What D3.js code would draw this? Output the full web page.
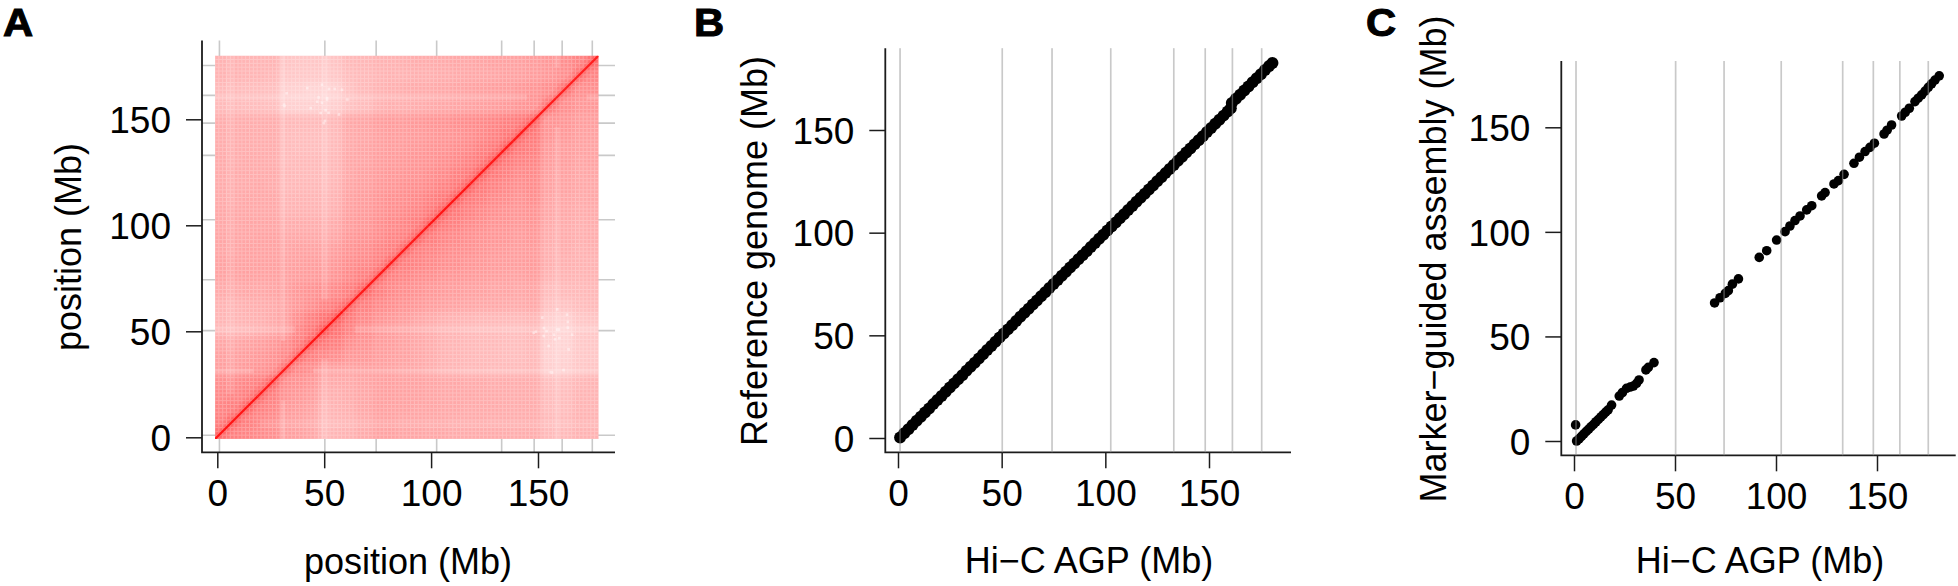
<!DOCTYPE html>
<html>
<head>
<meta charset="utf-8">
<script src="https://cdn.jsdelivr.net/npm/d3@7"></script>
<style>
  html, body { margin: 0; padding: 0; background: #fff; }
  text { font-family: "Liberation Sans", Arial, sans-serif; fill: #000; }
</style>
</head>
<body>
<svg id="chart" width="1958" height="586"></svg>
<script>
// contig boundaries shared by the three panels (Mb)
const boundaries = [1, 50.3, 74.3, 102.6, 133, 148.2, 161.3, 175.4];
const tickValues = [0, 50, 100, 150];

// panel A: bin edges (Mb) and contact strength in percent of full red, lower triangle
const binEdges = [0, 6, 12, 18, 24, 30, 36, 42, 48, 54, 60, 66, 74, 80, 86, 92, 98, 104, 110, 116, 122, 128, 134, 140, 146, 153, 161, 168, 174, 180];
const contacts = [
  [48],
  [46, 50],
  [44, 46, 50],
  [42, 43, 46, 50],
  [40, 41, 43, 46, 50],
  [34, 34, 36, 38, 40, 46],
  [33, 33, 34, 36, 38, 42, 48],
  [31, 31, 32, 34, 36, 40, 46, 52],
  [25, 25, 26, 28, 30, 34, 42, 48, 54],
  [25, 25, 26, 27, 29, 33, 40, 46, 50, 54],
  [26, 26, 27, 28, 29, 32, 36, 40, 44, 48, 50],
  [29, 29, 30, 30, 31, 33, 36, 38, 40, 42, 46, 50],
  [32, 32, 33, 33, 33, 33, 34, 35, 36, 38, 42, 46, 50],
  [32, 32, 32, 33, 33, 32, 33, 34, 34, 36, 40, 42, 46, 50],
  [31, 31, 32, 32, 32, 31, 32, 32, 32, 34, 38, 40, 44, 46, 50],
  [31, 31, 31, 32, 32, 30, 30, 30, 30, 31, 36, 38, 41, 44, 46, 50],
  [30, 30, 31, 31, 31, 28, 28, 28, 28, 29, 34, 36, 40, 42, 44, 47, 52],
  [30, 30, 30, 30, 30, 26, 26, 26, 26, 27, 33, 35, 38, 40, 42, 44, 48, 52],
  [29, 29, 30, 30, 30, 25, 25, 25, 25, 26, 32, 34, 37, 39, 40, 42, 45, 48, 52],
  [29, 29, 29, 30, 29, 24, 24, 24, 24, 25, 31, 33, 36, 37, 39, 40, 42, 45, 48, 52],
  [29, 29, 29, 29, 29, 24, 23, 23, 23, 24, 30, 32, 35, 36, 37, 38, 40, 42, 45, 48, 52],
  [29, 28, 29, 29, 28, 23, 23, 23, 23, 24, 30, 31, 34, 35, 36, 37, 38, 40, 42, 45, 48, 52],
  [28, 28, 28, 28, 28, 23, 22, 22, 22, 23, 29, 31, 33, 34, 35, 36, 37, 38, 40, 42, 45, 48, 52],
  [28, 28, 28, 28, 28, 23, 22, 22, 22, 23, 29, 30, 33, 34, 34, 35, 36, 37, 38, 40, 42, 45, 48, 50],
  [28, 28, 28, 28, 28, 24, 23, 23, 23, 24, 30, 31, 34, 35, 35, 36, 37, 38, 40, 41, 42, 44, 46, 48, 50],
  [23, 23, 22, 22, 21, 15, 14, 14, 14, 15, 20, 22, 26, 27, 27, 28, 29, 30, 31, 32, 33, 34, 35, 37, 38, 44],
  [23, 23, 22, 22, 21, 15, 14, 13, 13, 14, 20, 23, 26, 27, 28, 29, 29, 30, 31, 32, 33, 34, 34, 36, 37, 40, 46],
  [26, 26, 25, 25, 24, 18, 17, 17, 17, 18, 22, 23, 25, 26, 26, 27, 27, 28, 29, 30, 30, 31, 32, 33, 34, 36, 40, 46],
  [26, 26, 25, 25, 25, 19, 18, 18, 18, 19, 23, 24, 26, 26, 27, 28, 28, 29, 30, 30, 31, 32, 32, 33, 34, 36, 40, 44, 48]
];
// pale rows/columns: centre (Mb), width (Mb), whitening
const stripePos = [7, 32, 51.5, 160.5];
const stripeWidth = [4, 2, 3.5, 2.5];
const stripeAlpha = [0.09, 0.15, 0.13, 0.13];
// isolated low-contact bins (Mb), also shown mirrored
const speckX = [52, 55.6, 52.9, 57.6, 31.8, 51.3, 47.4, 44.3, 61.5, 59, 49, 42.7, 50.5, 52, 32, 48, 33, 49.6, 52.7, 49.6, 51];
const speckY = [160.7, 165, 165, 153, 157.6, 155, 159, 156, 160, 164.6, 153.7, 165.4, 149, 160, 157, 161, 163, 167, 153.8, 158.5, 150];
// main diagonal
const diagPos = [0, 20, 40, 60, 80, 100, 120, 140, 160, 180];
const diagVal = [88, 86, 88, 86, 86, 88, 86, 86, 84, 84];

// panel B: Hi-C AGP against reference genome (Mb)
const hicB = [1, 3, 5, 7, 9, 11, 13, 15, 17, 19, 21, 23, 25, 27, 29, 31, 33, 35, 37, 39, 41, 43, 45, 47, 49, 51, 53, 55, 57, 59, 61, 63, 65, 67, 69, 71, 73, 75, 77, 79, 81, 83, 85, 87, 89, 91, 93, 95, 97, 99, 101, 103, 105, 107, 109, 111, 113, 115, 117, 119, 121, 123, 125, 127, 129, 131, 133, 135, 137, 139, 141, 143, 145, 147, 149, 151, 153, 155, 157, 159, 160.5, 161, 163, 165, 167, 169, 171, 173, 175, 177, 179, 180.6];
const refB = [0.3, 2.3, 4.3, 6.3, 8.4, 10.4, 12.4, 14.4, 16.5, 18.5, 20.5, 22.5, 24.6, 26.6, 28.6, 30.6, 32.7, 34.7, 36.7, 38.7, 40.8, 42.8, 44.8, 46.9, 48.9, 50.9, 52.9, 54.9, 57, 59, 61, 63, 65, 67, 69, 71, 73, 75, 77, 79, 81, 83, 85, 87, 89, 91, 93, 95, 97, 99, 101, 103, 105, 107, 109, 111, 113, 115, 117, 119, 121, 123, 125, 127, 129, 131, 133, 135, 137, 139, 141, 143, 145, 147, 149, 151, 153, 155, 157, 159, 160.6, 163.2, 165.2, 167.2, 169.2, 171.2, 173.2, 175.2, 177.2, 179.2, 181.2, 182.6];

// panel C: Hi-C AGP against marker-guided assembly (Mb)
const hicC = [0.8, 1.3, 2.5, 3.7, 4.9, 6.1, 7.3, 8.5, 9.7, 10.9, 12.1, 13.3, 14.5, 15.7, 16.9, 18.6, 22.4, 24, 26, 27.8, 29.4, 31, 32.2, 35.6, 36.8, 39.6, 69.6, 72.3, 74.9, 76.4, 78.4, 81.4, 91.7, 95.4, 100.3, 104.5, 106.9, 109.4, 111.9, 115.2, 117.7, 122.6, 124.3, 128.7, 130.9, 133.7, 138.6, 141.3, 144.1, 146.5, 148.7, 153.5, 155, 157.2, 162.2, 164, 166, 168.8, 170.4, 172.1, 173.8, 175.4, 177, 178.7, 180.8];
const asmC = [7.7, 0, 1, 2.2, 3.4, 4.6, 5.7, 6.9, 8, 9.2, 10.3, 11.5, 12.6, 13.8, 14.9, 17.2, 21.5, 23.2, 25.2, 25.8, 26.3, 27.6, 29.2, 34, 35.2, 37.5, 66, 68.5, 70.6, 71.9, 75, 77.5, 87.8, 91, 96.1, 100.1, 102.8, 105.4, 107.6, 110.5, 112.5, 117.2, 118.8, 122.9, 124.5, 127.5, 132.8, 135.7, 138.4, 140.4, 142.4, 146.8, 148.6, 151.1, 155.4, 157.2, 159.1, 162.3, 163.9, 165.5, 167.3, 169.1, 170.8, 172.6, 174.6];

const svg = d3.select("#chart");
const gridColor = "#c9c9c9";
const axisColor = "#1c1c1c";
const tickFont = 37;
const titleFont = 36;

// frame, gray boundary lines, ticks and titles of one panel
function makePanel(p) {
  const g = svg.append("g");
  const x = d3.scaleLinear().domain([0, 150]).range(p.xRange);
  const y = d3.scaleLinear().domain([0, 150]).range(p.yRange);

  const gray = g.append("g").attr("stroke", gridColor).attr("stroke-width", 1.6);
  gray.selectAll("line.v").data(boundaries).join("line")
    .attr("class", "v")
    .attr("x1", d => x(d)).attr("x2", d => x(d))
    .attr("y1", p.top).attr("y2", p.bottom);
  if (p.horizontal) {
    gray.selectAll("line.h").data(boundaries).join("line")
      .attr("class", "h")
      .attr("y1", d => y(d)).attr("y2", d => y(d))
      .attr("x1", p.left).attr("x2", p.right);
  }

  const xAxis = g.append("g")
    .attr("transform", `translate(0,${p.bottom})`)
    .call(d3.axisBottom(x).tickValues(tickValues).tickSize(16).tickPadding(11).tickSizeOuter(0));
  const yAxis = g.append("g")
    .attr("transform", `translate(${p.left},0)`)
    .call(d3.axisLeft(y).tickValues(tickValues).tickSize(16).tickPadding(15).tickSizeOuter(0));
  [xAxis, yAxis].forEach(a => {
    a.select(".domain").remove();
    a.selectAll("line").attr("stroke", axisColor).attr("stroke-width", 1.5);
    a.selectAll("text").style("font-size", tickFont + "px").attr("fill", "#000");
  });
  yAxis.selectAll("text").attr("dy", "0.36em");

  g.append("path")
    .attr("d", `M${p.left},${p.top}V${p.bottom}H${p.right}`)
    .attr("fill", "none").attr("stroke", axisColor).attr("stroke-width", 1.8);

  g.append("text").attr("x", p.titleX[0]).attr("y", p.titleX[1])
    .attr("text-anchor", "middle").style("font-size", titleFont + "px").text(p.xLabel);
  g.append("text").attr("transform", `translate(${p.titleY[0]},${p.titleY[1]}) rotate(-90)`)
    .attr("text-anchor", "middle").style("font-size", titleFont + "px").text(p.yLabel);
  g.append("text").attr("transform", `translate(${p.letter},36) scale(1.1,1)`)
    .style("font-size", "38px").style("font-weight", "bold")
    .attr("stroke", "#000").attr("stroke-width", 1).text(p.name);
  return {g, x, y};
}

// ---- panel A
const panelA = makePanel({
  name: "A", letter: 3, xRange: [217.3, 538], yRange: [437.3, 119.3],
  left: 202, right: 615, top: 40.5, bottom: 452.3, horizontal: true,
  xLabel: "position (Mb)", yLabel: "position (Mb)", titleX: [408, 574], titleY: [81, 247]
});

// the contact image sits slightly off the axis scale
const heatX = d3.scaleLinear().domain([0, 180]).range([215, 598.5]);
const heatY = d3.scaleLinear().domain([0, 180]).range([439, 55.7]);
const heatColor = v => d3.interpolateRgb("#ffffff", "#ff0000")((v + 4) / 100); // +4 makes up for the white texture
const contactAt = (i, j) => i >= j ? contacts[i][j] : contacts[j][i];

const defs = svg.append("defs");
defs.append("clipPath").attr("id", "heat-clip").append("rect")
  .attr("x", heatX(0)).attr("y", heatY(180))
  .attr("width", heatX(180) - heatX(0)).attr("height", heatY(0) - heatY(180));
defs.append("filter").attr("id", "heat-blur")
  .attr("filterUnits", "userSpaceOnUse")
  .attr("x", 150).attr("y", 0).attr("width", 520).attr("height", 500)
  .append("feGaussianBlur").attr("stdDeviation", 2.8);

const heat = panelA.g.append("g").attr("clip-path", "url(#heat-clip)");
const nBins = binEdges.length - 1;
const cells = d3.range(nBins).flatMap(i => d3.range(nBins).map(j => ({i, j})));
const edgePad = k => k === 0 ? -12 : k === binEdges.length - 1 ? 12 : 0;

heat.append("g").attr("filter", "url(#heat-blur)")
  .selectAll("rect").data(cells).join("rect")
  .attr("x", d => heatX(binEdges[d.j]) + edgePad(d.j))
  .attr("width", d => heatX(binEdges[d.j + 1]) + edgePad(d.j + 1) - heatX(binEdges[d.j]) - edgePad(d.j) + 0.5)
  .attr("y", d => heatY(binEdges[d.i + 1]) + (d.i + 1 === nBins ? -12 : 0))
  .attr("height", d => heatY(binEdges[d.i]) - heatY(binEdges[d.i + 1]) + (d.i + 1 === nBins ? 12 : 0) + (d.i === 0 ? 12 : 0) + 0.5)
  .attr("fill", d => heatColor(contactAt(d.i, d.j)));

// pale rows and columns, they fade out next to the diagonal
const diagGap = 14;
stripePos.forEach((pos, k) => {
  const half = stripeWidth[k] / 2;
  [[0, pos - diagGap], [pos + diagGap, 180]].filter(s => s[1] > s[0]).forEach(([from, to]) => {
    heat.append("rect")
      .attr("x", heatX(pos - half)).attr("width", heatX(stripeWidth[k]) - heatX(0))
      .attr("y", heatY(to)).attr("height", heatY(from) - heatY(to))
      .attr("fill", "#fff").attr("opacity", stripeAlpha[k]);
    heat.append("rect")
      .attr("y", heatY(pos + half)).attr("height", heatY(0) - heatY(stripeWidth[k]))
      .attr("x", heatX(from)).attr("width", heatX(to) - heatX(from))
      .attr("fill", "#fff").attr("opacity", stripeAlpha[k]);
  });
});

// grid texture of the binned matrix
const texture = heat.append("g").attr("stroke", "#fff").attr("stroke-width", 1).attr("opacity", 0.24);
texture.selectAll("line.v").data(d3.range(0, 180, 1.8)).join("line").attr("class", "v")
  .attr("x1", d => heatX(d)).attr("x2", d => heatX(d)).attr("y1", heatY(180)).attr("y2", heatY(0));
texture.selectAll("line.h").data(d3.range(0, 180, 1.8)).join("line").attr("class", "h")
  .attr("y1", d => heatY(d)).attr("y2", d => heatY(d)).attr("x1", heatX(0)).attr("x2", heatX(180));

// speckles, both sides of the diagonal
const speckSize = 2.6;
const specks = heat.append("g").attr("fill", "#fff").attr("opacity", 0.42);
speckX.forEach((sx, k) => {
  [[sx, speckY[k]], [speckY[k], sx]].forEach(([a, b]) => {
    specks.append("rect").attr("x", heatX(a)).attr("y", heatY(b)).attr("width", speckSize).attr("height", speckSize);
  });
});

// diagonal: soft halo, then the sharp red line
const diagLine = d3.line().x(d => heatX(d)).y(d => heatY(d));
heat.append("path").attr("d", diagLine(diagPos)).attr("fill", "none")
  .attr("stroke", "#ff0000").attr("stroke-width", 14).attr("opacity", 0.05);
heat.append("path").attr("d", diagLine(diagPos)).attr("fill", "none")
  .attr("stroke", "#ff0000").attr("stroke-width", 6).attr("opacity", 0.1);
heat.selectAll("line.diag").data(d3.pairs(d3.zip(diagPos, diagVal))).join("line")
  .attr("class", "diag")
  .attr("x1", d => heatX(d[0][0])).attr("y1", d => heatY(d[0][0]))
  .attr("x2", d => heatX(d[1][0])).attr("y2", d => heatY(d[1][0]))
  .attr("stroke", d => heatColor(d[0][1])).attr("stroke-width", 2.2);

// ---- scatter panels
function drawDots(panel, xs, ys, r) {
  panel.g.append("g").selectAll("circle").data(d3.zip(xs, ys)).join("circle")
    .attr("cx", d => panel.x(d[0])).attr("cy", d => panel.y(d[1]))
    .attr("r", r).attr("fill", "#000");
  // boundaries show through the dots a little
  panel.g.append("g").attr("stroke", gridColor).attr("stroke-width", 1.4).attr("opacity", 0.4)
    .selectAll("line").data(boundaries).join("line")
    .attr("x1", d => panel.x(d)).attr("x2", d => panel.x(d))
    .attr("y1", panel.top).attr("y2", panel.bottom);
}

const panelB = makePanel({
  name: "B", letter: 694, xRange: [898, 1209], yRange: [438, 130],
  left: 885.3, right: 1291, top: 48.3, bottom: 452.3,
  xLabel: "Hi\u2212C AGP (Mb)", yLabel: "Reference genome (Mb)", titleX: [1089, 573], titleY: [767, 251]
});
drawDots(Object.assign(panelB, {top: 48.3, bottom: 452.3}), hicB, refB, 6);

const panelC = makePanel({
  name: "C", letter: 1366, xRange: [1574, 1877], yRange: [441, 127.3],
  left: 1561.3, right: 1955.7, top: 61, bottom: 455.3,
  xLabel: "Hi\u2212C AGP (Mb)", yLabel: "Marker\u2212guided assembly (Mb)", titleX: [1760, 573], titleY: [1446, 259]
});
drawDots(Object.assign(panelC, {top: 61, bottom: 455.3}), hicC, asmC, 4.8);
</script>
</body>
</html>
